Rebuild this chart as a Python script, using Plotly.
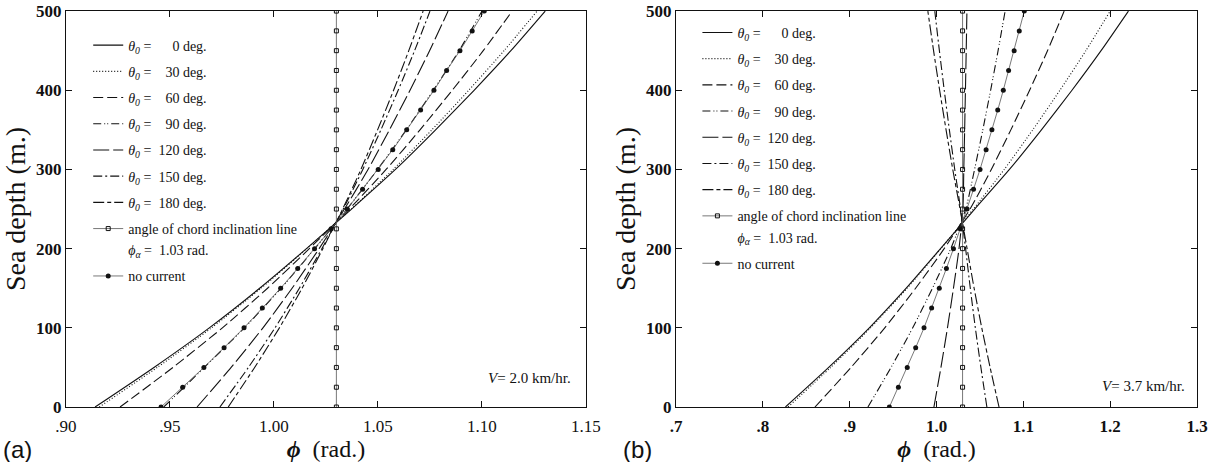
import plotly.graph_objects as go

# Depth grid (m) for the mooring-angle curves, and the marker grid (every 25 m)
depth = [0, 50, 100, 150, 200, 250, 300, 350, 400, 450, 500]
depth_marks = [0, 25, 50, 75, 100, 125, 150, 175, 200, 225, 250, 275,
               300, 325, 350, 375, 400, 425, 450, 475, 500]

# Angle of chord inclination (rad)
chord_phi = 1.03

# No-current solution (rad), sampled every 25 m
no_current = [0.9457, 0.9561, 0.9663, 0.9760, 0.9856, 0.9944, 1.0032, 1.0114,
              1.0195, 1.0275, 1.0352, 1.0426, 1.0501, 1.0571, 1.0638, 1.0705,
              1.0769, 1.0830, 1.0894, 1.0953, 1.1011]

theta_deg = [0, 30, 60, 90, 120, 150, 180]

# (a) current speed V = 2.0 km/hr
a_theta0 = [0.914, 0.9423, 0.9689, 0.9931, 1.0156, 1.0373, 1.0584, 1.0777, 1.0962, 1.1139, 1.1304]
a_theta30 = [0.916, 0.9439, 0.9700, 0.9938, 1.0158, 1.0371, 1.0573, 1.0759, 1.0936, 1.1106, 1.1265]
a_theta60 = [0.926, 0.9514, 0.9752, 0.9969, 1.0170, 1.0362, 1.0539, 1.0702, 1.0857, 1.1006, 1.1145]
a_theta90 = [0.947, 0.9665, 0.9858, 1.0034, 1.0196, 1.0351, 1.0498, 1.0636, 1.0766, 1.0890, 1.1000]
a_theta120 = [0.963, 0.9794, 0.9947, 1.0087, 1.0217, 1.0339, 1.0452, 1.0555, 1.0654, 1.0748, 1.0837]
a_theta150 = [0.974, 0.9877, 1.0005, 1.0122, 1.0230, 1.0333, 1.0427, 1.0514, 1.0597, 1.0676, 1.0750]
a_theta180 = [0.978, 0.9907, 1.0026, 1.0135, 1.0235, 1.0330, 1.0418, 1.0498, 1.0575, 1.0648, 1.0717]

# (b) current speed V = 3.7 km/hr
b_theta0 = [0.826, 0.8758, 0.9226, 0.9651, 1.0046, 1.0440, 1.0840, 1.1208, 1.1560, 1.1895, 1.2210]
b_theta30 = [0.829, 0.8781, 0.9241, 0.9661, 1.0050, 1.0424, 1.0780, 1.1108, 1.1421, 1.1720, 1.2000]
b_theta60 = [0.860, 0.9015, 0.9404, 0.9759, 1.0088, 1.0386, 1.0631, 1.0856, 1.1072, 1.1278, 1.1470]
b_theta90 = [0.921, 0.9476, 0.9726, 0.9953, 1.0164, 1.0336, 1.0438, 1.0533, 1.0623, 1.0709, 1.0790]
b_theta120 = [0.997, 1.0051, 1.0126, 1.0195, 1.0259, 1.0304, 1.0314, 1.0324, 1.0333, 1.0342, 1.0350]
b_theta150 = [1.058, 1.0511, 1.0447, 1.0389, 1.0335, 1.0277, 1.0210, 1.0148, 1.0089, 1.0033, 0.9980]
b_theta180 = [1.072, 1.0617, 1.0521, 1.0433, 1.0352, 1.0271, 1.0187, 1.0110, 1.0036, 0.9966, 0.9900]

a_curves = [a_theta0, a_theta30, a_theta60, a_theta90, a_theta120, a_theta150, a_theta180]
b_curves = [b_theta0, b_theta30, b_theta60, b_theta90, b_theta120, b_theta150, b_theta180]

a_ticks = [0.90, 0.95, 1.00, 1.05, 1.10, 1.15]
a_ticktext = [".90", ".95", "1.00", "1.05", "1.10", "1.15"]
b_ticks = [0.7, 0.8, 0.9, 1.0, 1.1, 1.2, 1.3]
b_ticktext = [".7", ".8", ".9", "1.0", "1.1", "1.2", "1.3"]
y_ticks = [0, 100, 200, 300, 400, 500]

# Dash pattern for each current direction
dashes = ["solid", "1px,2px", "10px,4px", "8px,3px,1px,2px,1px,3px",
          "16px,4px", "9px,3px,2px,3px", "11px,3px,4px,3px"]

INK = "#111111"
SERIF = "Liberation Serif, Times New Roman, serif"


def theta_label(deg):
    pad = "\u00a0\u00a0" * (3 - len(str(deg)))
    return f"<i>θ</i><sub><i>0</i></sub> =\u00a0\u00a0{pad}{deg} deg."


fig = go.Figure()

panels = [("x", "y", "legend", a_curves), ("x2", "y2", "legend2", b_curves)]
for xa, ya, leg, curves in panels:
    for k, (deg, phi) in enumerate(zip(theta_deg, curves)):
        fig.add_trace(go.Scatter(
            x=phi, y=depth, xaxis=xa, yaxis=ya, mode="lines",
            line=dict(color=INK, width=1.1, dash=dashes[k], shape="spline", smoothing=0.6),
            name=theta_label(deg), legend=leg, legendgroup=f"{leg}-{deg}",
        ))
    fig.add_trace(go.Scatter(
        x=[chord_phi] * len(depth_marks), y=depth_marks, xaxis=xa, yaxis=ya,
        mode="lines+markers",
        line=dict(color="#555555", width=0.8),
        marker=dict(symbol="square-open", size=4, color=INK, line=dict(width=1)),
        name="angle of chord inclination line",
        legend=leg, legendgroup=f"{leg}-chord",
    ))
    # second line of the chord legend entry (value of the chord angle)
    fig.add_trace(go.Scatter(
        x=[None], y=[None], xaxis=xa, yaxis=ya, mode="lines",
        line=dict(color="rgba(0,0,0,0)", width=0),
        name=f"<i>ϕ</i><sub><i>α</i></sub> =\u00a0\u00a0{chord_phi:.2f} rad.",
        legend=leg, legendgroup=f"{leg}-chord", hoverinfo="skip",
    ))
    fig.add_trace(go.Scatter(
        x=no_current, y=depth_marks, xaxis=xa, yaxis=ya, mode="lines+markers",
        line=dict(color="#555555", width=0.8),
        marker=dict(symbol="circle", size=5, color=INK),
        name="no current", legend=leg, legendgroup=f"{leg}-none",
    ))

axis_common = dict(
    showline=True, mirror="ticks", linecolor=INK, linewidth=1.2,
    ticks="inside", ticklen=6, tickcolor=INK, tickwidth=1,
    showgrid=False, zeroline=False, automargin=False,
)

ydom = [0.119, 0.976]
legend_common = dict(xanchor="left", yanchor="top", bgcolor="rgba(0,0,0,0)",
                     font=dict(size=14, family=SERIF), traceorder="grouped",
                     tracegroupgap=5, valign="middle", itemwidth=30)
fig.update_layout(
    width=1215, height=462,
    margin=dict(l=0, r=0, t=0, b=0, autoexpand=False),
    paper_bgcolor="white", plot_bgcolor="white",
    font=dict(family=SERIF, color=INK),
    xaxis=dict(domain=[0.0543, 0.4823], range=[0.90, 1.15], tickvals=a_ticks, ticktext=a_ticktext,
               tickfont=dict(size=17, family=SERIF), ticklabelstandoff=3,
               title=dict(text="<b><i>ϕ</i></b>\u00a0\u00a0(rad.)", font=dict(size=24), standoff=2),
               anchor="y", **axis_common),
    yaxis=dict(domain=ydom, range=[0, 500], tickvals=y_ticks,
               tickfont=dict(size=17, family=SERIF, weight="bold"),
               title=dict(text="Sea depth (m.)", font=dict(size=28), standoff=2),
               anchor="x", **axis_common),
    xaxis2=dict(domain=[0.5564, 0.9852], range=[0.7, 1.3], tickvals=b_ticks, ticktext=b_ticktext,
                tickfont=dict(size=17, family=SERIF, weight="bold"), ticklabelstandoff=3,
                title=dict(text="<b><i>ϕ</i></b>\u00a0\u00a0(rad.)", font=dict(size=24), standoff=2),
                anchor="y2", **axis_common),
    yaxis2=dict(domain=ydom, range=[0, 500], tickvals=y_ticks,
                tickfont=dict(size=17, family=SERIF, weight="bold"),
                title=dict(text="Sea depth (m.)", font=dict(size=28), standoff=2),
                anchor="x2", **axis_common),
    legend=dict(x=0.0726, y=0.936, **legend_common),
    legend2=dict(x=0.574, y=0.9635, **legend_common),
    annotations=[
        dict(text="(a)", x=0.001, y=0.026, xref="paper", yref="paper", xanchor="left", yanchor="middle",
             showarrow=False, font=dict(size=24, family="Liberation Sans, Arial, sans-serif")),
        dict(text="(b)", x=0.511, y=0.026, xref="paper", yref="paper", xanchor="left", yanchor="middle",
             showarrow=False, font=dict(size=24, family="Liberation Sans, Arial, sans-serif")),
        dict(text="<i>V</i>= 2.0 km/hr.", x=0.975, y=0.073, xref="x domain", yref="y domain",
             xanchor="right", yanchor="middle", showarrow=False, font=dict(size=15)),
        dict(text="<i>V</i>= 3.7 km/hr.", x=0.981, y=0.053, xref="x2 domain", yref="y2 domain",
             xanchor="right", yanchor="middle", showarrow=False, font=dict(size=15)),
    ],
)

fig.write_html("out.html")
